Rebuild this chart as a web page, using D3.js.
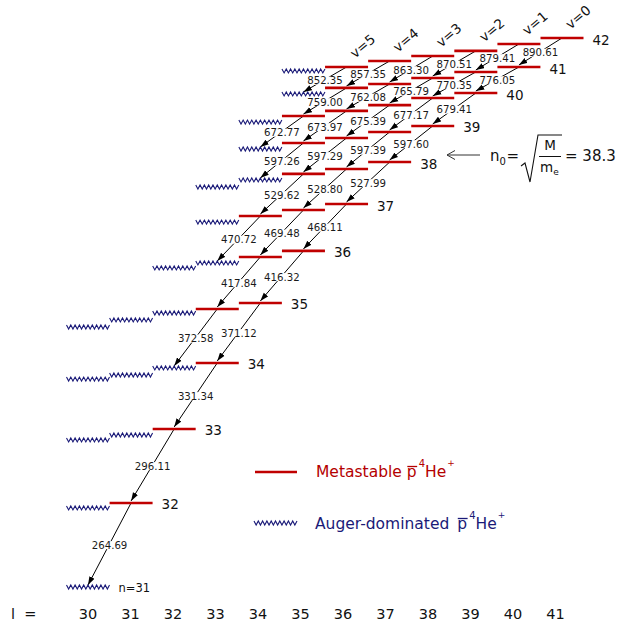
<!DOCTYPE html>
<html>
<head>
<meta charset="utf-8">
<script src="https://cdnjs.cloudflare.com/ajax/libs/d3/7.8.5/d3.min.js"></script>
<style>
	body { margin: 0; background: #fff; }
	svg { display: block; font-family: "DejaVu Sans", sans-serif; }
</style>
</head>
<body>
<div id="chart-area"></div>
<script>
// principal quantum number of each row, top to bottom
var nValues = [42, 41, 40, 39, 38, 37, 36, 35, 34, 33, 32, 31];
// how many states of each row (from l = n-1 downward) are metastable; the rest are Auger-dominated
var metastableCount = [6, 5, 5, 4, 3, 3, 2, 2, 1, 1, 1, 0];
// level energy below (n=42, l=41) in eV as drawn, for l = n-1, n-2, ...
var levelEnergy = [
	[0.00, 0.34, 0.73, 1.02, 1.30, 1.64, 1.86],
	[1.64, 1.92, 2.26, 2.60, 2.82, 3.16],
	[3.11, 3.39, 3.79, 4.12, 4.41, 4.75],
	[4.97, 5.31, 5.65, 5.93, 6.27],
	[7.01, 7.40, 7.68, 8.02, 8.42],
	[9.38, 9.72, 10.06, 10.40],
	[12.03, 12.37, 12.71, 12.99],
	[14.97, 15.31, 15.54, 15.93, 16.33],
	[18.36, 18.64, 19.04, 19.27],
	[22.09, 22.43, 22.71],
	[26.27, 26.55],
	[31.02]
];
// transition wavelengths (nm), (n, l) -> (n-1, l-1), starting from n = 42
var wavelengthV0 = [890.61, 776.05, 679.41, 597.60, 527.99, 468.11, 416.32, 371.12, 331.34, 296.11, 264.69];
var wavelengthV1 = [879.41, 770.35, 677.17, 597.39, 528.80, 469.48, 417.84, 372.58];
var wavelengthV2 = [870.51, 765.79, 675.39, 597.29, 529.62, 470.72];
var wavelengthV3 = [863.30, 762.08, 673.97, 597.26];
var wavelengthV4 = [857.35, 759.00, 672.77];
var wavelengthV5 = [852.35];
var wavelengths = [wavelengthV0, wavelengthV1, wavelengthV2, wavelengthV3, wavelengthV4, wavelengthV5];
var vLabels = ["v=0", "v=1", "v=2", "v=3", "v=4", "v=5"];
var lValues = [30, 31, 32, 33, 34, 35, 36, 37, 38, 39, 40, 41];

var red = "#c00000";
var navy = "#1a1a78";

var states = [];
var stateAt = {};
nValues.forEach(function(n, i) {
	levelEnergy[i].forEach(function(e, k) {
		var s = {n: n, l: n - 1 - k, e: e, meta: k < metastableCount[i]};
		states.push(s);
		stateAt[s.n + "," + s.l] = s;
	});
});

var transitions = [];
wavelengths.forEach(function(list, v) {
	list.forEach(function(w, j) {
		var n = nValues[0] - j;
		var l = n - 1 - v;
		transitions.push({from: stateAt[n + "," + l], to: stateAt[(n - 1) + "," + (l - 1)], w: w});
	});
});

var width = 621;
var height = 624;

var svg = d3.select("#chart-area")
	.append("svg")
		.attr("width", width)
		.attr("height", height);

var x = d3.scaleLinear()
	.domain([30, 41])
	.range([88, 562]);

var xLabel = d3.scaleLinear()
	.domain([30, 41])
	.range([87.5, 555]);

var y = d3.scaleLinear()
	.domain([0, d3.max(states, function(d) { return d.e; })])
	.range([38, 587]);

var halfBar = 21.5;

svg.append("defs").append("marker")
		.attr("id", "arrow")
		.attr("viewBox", "0 -3 8 6")
		.attr("refX", 8)
		.attr("refY", 0)
		.attr("markerWidth", 8.5)
		.attr("markerHeight", 6.4)
		.attr("markerUnits", "userSpaceOnUse")
		.attr("orient", "auto")
	.append("path")
		.attr("d", "M0,-2.7L8,0L0,2.7Z")
		.attr("fill", "#000");

var gLines = svg.append("g");
var gBg = svg.append("g");
var gLevels = svg.append("g");
var gText = svg.append("g");

// transitions
gLines.selectAll("line")
	.data(transitions)
	.enter()
	.append("line")
		.attr("x1", function(d) { return x(d.from.l); })
		.attr("y1", function(d) { return y(d.from.e); })
		.attr("x2", function(d) { return x(d.to.l); })
		.attr("y2", function(d) { return y(d.to.e) - 2; })
		.attr("stroke", "#000")
		.attr("stroke-width", 1)
		.attr("marker-end", "url(#arrow)");

var fmt = d3.format(".2f");
transitions.forEach(function(d) {
	var mx = (x(d.from.l) + x(d.to.l)) / 2;
	var my = (y(d.from.e) + y(d.to.e)) / 2;
	var t = gText.append("text")
		.attr("x", mx)
		.attr("y", my)
		.attr("dy", "0.36em")
		.attr("text-anchor", "middle")
		.style("font-size", "10.2px")
		.style("fill", "#1a1a1a")
		.text(fmt(d.w));
	var b = t.node().getBBox();
	gBg.append("rect")
		.attr("x", b.x - 0.5)
		.attr("y", b.y + 1.5)
		.attr("width", b.width + 1)
		.attr("height", b.height - 3)
		.attr("fill", "#fff");
});

// levels
function zigzag(cx, cy) {
	var pts = d3.range(21).map(function(i) {
		return [cx - halfBar + i * (2 * halfBar) / 20, cy + (i % 2 ? 2 : -2)];
	});
	return d3.line()(pts);
}

gLevels.selectAll("line")
	.data(states.filter(function(d) { return d.meta; }))
	.enter()
	.append("line")
		.attr("x1", function(d) { return x(d.l) - halfBar; })
		.attr("x2", function(d) { return x(d.l) + halfBar; })
		.attr("y1", function(d) { return y(d.e); })
		.attr("y2", function(d) { return y(d.e); })
		.attr("stroke", red)
		.attr("stroke-width", 2.6);

gLevels.selectAll("path")
	.data(states.filter(function(d) { return !d.meta; }))
	.enter()
	.append("path")
		.attr("d", function(d) { return zigzag(x(d.l), y(d.e)); })
		.attr("fill", "none")
		.attr("stroke", navy)
		.attr("stroke-width", 1.1);

// n labels at the right of each v=0 level
gText.selectAll(".nlabel")
	.data(states.filter(function(d) { return d.l === d.n - 1 && d.meta; }))
	.enter()
	.append("text")
		.attr("class", "nlabel")
		.attr("x", function(d) { return x(d.l) + halfBar + 9; })
		.attr("y", function(d) { return y(d.e) + 6.5; })
		.style("font-size", "13.5px")
		.style("fill", "#111")
		.text(function(d) { return d.n; });

var bottom = states.filter(function(d) { return d.n === 31; })[0];
gText.append("text")
	.attr("x", x(bottom.l) + halfBar + 9)
	.attr("y", y(bottom.e) + 5)
	.style("font-size", "11.5px")
	.style("fill", "#111")
	.text("n=" + bottom.n);

// v labels above the n=42 row
vLabels.forEach(function(txt, v) {
	var s = stateAt[nValues[0] + "," + (nValues[0] - 1 - v)];
	var cx = x(s.l) + 16;
	var cy = y(s.e) - 21;
	gText.append("text")
		.attr("transform", "translate(" + cx + "," + cy + ") rotate(-40)")
		.attr("text-anchor", "middle")
		.attr("dy", "0.36em")
		.style("font-size", "13.5px")
		.style("fill", "#111")
		.text(txt);
});

// l axis
var lAxis = d3.axisBottom(xLabel)
	.tickValues(lValues)
	.tickSize(0)
	.tickPadding(0)
	.tickFormat(d3.format("d"));
var axisG = svg.append("g")
	.attr("transform", "translate(0, 609)")
	.call(lAxis);
axisG.select(".domain").remove();
axisG.selectAll("text")
	.attr("font-family", "DejaVu Sans, sans-serif")
	.attr("font-size", "14.5px")
	.attr("fill", "#111");

svg.append("text")
	.attr("x", 11)
	.attr("y", 619)
	.style("font-size", "14.5px")
	.style("fill", "#111")
	.text("l  =")
	.attr("xml:space", "preserve");

// text built from pieces (superscripts, overline)
function pieces(x0, yb, color, parts) {
	var cx = x0;
	parts.forEach(function(p) {
		var px = cx + (p.dx || 0);
		var t = svg.append("text")
			.attr("x", px)
			.attr("y", yb + (p.dy || 0))
			.style("font-size", p.size + "px")
			.style("fill", color)
			.text(p.text);
		var w = t.node().getComputedTextLength();
		if (p.bar) {
			svg.append("line")
				.attr("x1", px + 0.5)
				.attr("x2", px + w + 0.5)
				.attr("y1", yb - 10.5)
				.attr("y2", yb - 10.5)
				.attr("stroke", color)
				.attr("stroke-width", 1.3);
		}
		cx = px + w;
	});
}

// legend
svg.append("line")
	.attr("x1", 255)
	.attr("x2", 297)
	.attr("y1", 472)
	.attr("y2", 472)
	.attr("stroke", red)
	.attr("stroke-width", 2.6);
pieces(316, 477, "#b40000", [
	{text: "Metastable", size: 15.5},
	{text: "p", size: 15.5, dx: 5, bar: true},
	{text: "4", size: 10, dx: 2, dy: -10},
	{text: "He", size: 15.5},
	{text: "+", size: 9, dx: 1, dy: -11}
]);

svg.append("path")
	.attr("d", zigzag(275.5, 523))
	.attr("fill", "none")
	.attr("stroke", navy)
	.attr("stroke-width", 1.1);
pieces(315, 529, navy, [
	{text: "Auger-dominated", size: 15.5},
	{text: "p", size: 15.5, dx: 8, bar: true},
	{text: "4", size: 10, dx: 2, dy: -10},
	{text: "He", size: 15.5},
	{text: "+", size: 9, dx: 1, dy: -11}
]);

// n0 formula with arrow
svg.append("path")
	.attr("d", "M480,155H447M455,150.5L447,155L455,159.5")
	.attr("fill", "none")
	.attr("stroke", "#333")
	.attr("stroke-width", 1);
pieces(490, 161, "#111", [
	{text: "n", size: 15},
	{text: "0", size: 10, dy: 4},
	{text: "=", size: 15, dx: 0.5, dy: 0}
]);
svg.append("path")
	.attr("d", "M521,166L525,163L530,182L538,135H562")
	.attr("fill", "none")
	.attr("stroke", "#111")
	.attr("stroke-width", 1.1);
svg.append("text")
	.attr("x", 550)
	.attr("y", 150)
	.attr("text-anchor", "middle")
	.style("font-size", "13.5px")
	.style("fill", "#111")
	.text("M");
svg.append("line")
	.attr("x1", 539)
	.attr("x2", 561)
	.attr("y1", 156.5)
	.attr("y2", 156.5)
	.attr("stroke", "#111")
	.attr("stroke-width", 1);
pieces(540, 172, "#111", [
	{text: "m", size: 13.5},
	{text: "e", size: 9, dy: 3}
]);
svg.append("text")
	.attr("x", 565)
	.attr("y", 161)
	.style("font-size", "15px")
	.style("fill", "#111")
	.text("= 38.3");
</script>
</body>
</html>
